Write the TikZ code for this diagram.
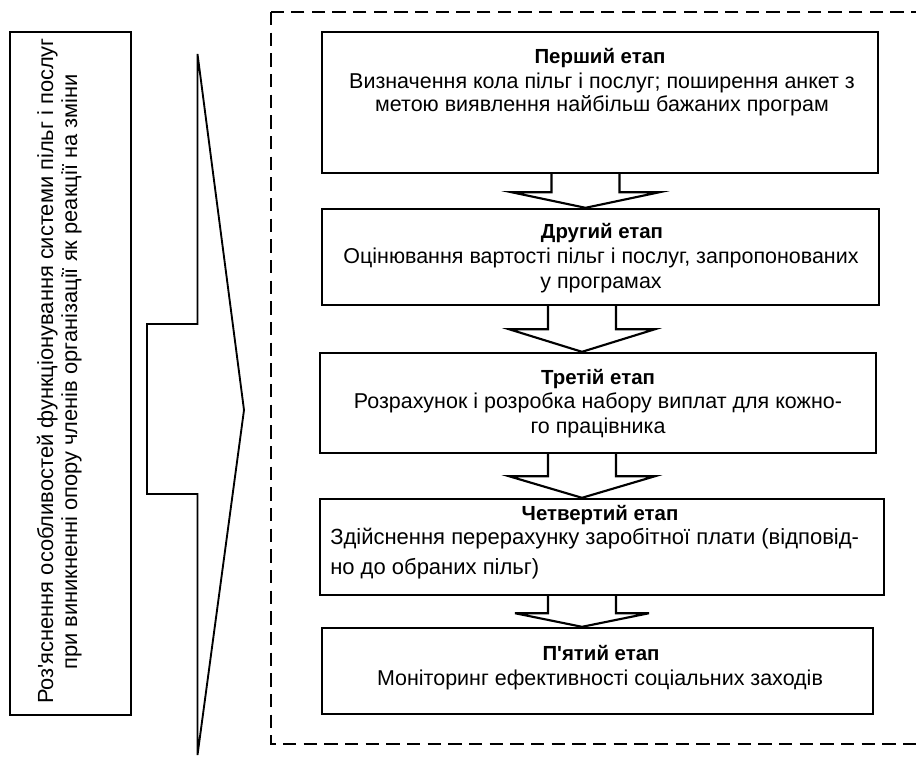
\documentclass[tikz,border=0pt]{standalone}
\usepackage{fontspec}
\setmainfont{Liberation Sans}
\usetikzlibrary{calc}
\tikzset{
  stage/.style={draw, line width=1.8pt, inner sep=0pt, rectangle},
  sidebox/.style={draw, line width=1.5pt, inner sep=0pt, rectangle},
  ln/.style={anchor=base, inner sep=0pt, font=\fontsize{16.1}{19}\selectfont},
  wideln/.style={anchor=base west, inner sep=0pt, font=\fontsize{16.5}{19}\selectfont},
  sideln/.style={anchor=base, inner sep=0pt, font=\fontsize{16.4}{20}\selectfont},
  hd/.style={anchor=base, inner sep=0pt, font=\fontsize{15.3}{18}\selectfont\bfseries},
  blk/.style={draw, line width=1.6pt, fill=white, line join=miter},
  bigarrow/.style={draw, line width=1.4pt, line join=miter},
  frame/.style={draw, line width=2pt, dash pattern=on 10pt off 5.5pt},
}
% block arrow from the bottom of #1 to the top of #2 along axis #3;
% #4 = stem length, #5 = half width of the head
\newcommand{\stagearrow}[5]{%
  \draw[blk] ($(#1.south -| #3)+(-34,0)$) -- ++(0,#4)
    -- ($(#1.south -| #3)+(-#5,#4)$) -- (#2.north -| #3)
    -- ($(#1.south -| #3)+(#5,#4)$) -- ($(#1.south -| #3)+(34,#4)$)
    -- ($(#1.south -| #3)+(34,0)$);
}
\begin{document}
\begin{tikzpicture}[x=0.75pt,y=-0.75pt]
\useasboundingbox (0,0) rectangle (916,758);

% dashed frame round the stages
\draw[frame] (271,12) rectangle (930,744);

% side box with rotated text
\node[sidebox, minimum width=90.75pt, minimum height=512.25pt] (side) at (70.5,373.5) {};
\node[sideln, rotate=90] (side1) at (53,371) {Роз\textquotesingle яснення особливостей функціонування системи пільг і послуг};
\node[sideln, rotate=90] (side2) at (77,372) {при виникненні опору членів організації як реакції на зміни};

% wide arrow pointing at the stages
\draw[bigarrow] (197.5,54) -- (244,410) -- (197.5,755) -- (197.5,494) -- (147,494)
  -- (147,324) -- (197.5,324) -- cycle;

% stage boxes
\node[stage, minimum width=417pt, minimum height=105.75pt] (s1) at (600,102.5) {};
\node[stage, minimum width=417.75pt, minimum height=72pt] (s2) at (600.5,257) {};
\node[stage, minimum width=417pt, minimum height=75pt] (s3) at (598,403) {};
\node[stage, minimum width=423pt, minimum height=72pt] (s4) at (602,547) {};
\node[stage, minimum width=413.25pt, minimum height=64.5pt] (s5) at (597.5,671) {};

% stage texts
\node[hd] (t1) at (600,63) {Перший етап};
\node[ln] (t1a) at (602,88) {Визначення кола пільг і послуг; поширення анкет з};
\node[ln] (t1b) at (602,111) {метою виявлення найбільш бажаних програм};

\node[hd] (t2) at (602,238) {Другий етап};
\node[ln] (t2a) at (601,263) {Оцінювання вартості пільг і послуг, запропонованих};
\node[ln] (t2b) at (601,288) {у програмах};

\node[hd] (t3) at (598,384) {Третій етап};
\node[ln] (t3a) at (598,408) {Розрахунок і розробка набору виплат для кожно-};
\node[ln] (t3b) at (598,433) {го працівника};

\node[hd] (t4) at (600,520) {Четвертий етап};
\node[wideln] (t4a) at (330,544) {Здійснення перерахунку заробітної плати (відповід-};
\node[wideln] (t4b) at (330,574) {но до обраних пільг)};

\node[hd] (t5) at (601,660) {П\textquotesingle ятий етап};
\node[ln] (t5a) at (600,685) {Моніторинг ефективності соціальних заходів};

% arrow axes
\coordinate (a1) at (585.5,0);
\coordinate (a2) at (582,0);
\coordinate (a3) at (582,0);
\coordinate (a4) at (582,0);

\stagearrow{s1}{s2}{a1}{18}{74}
\stagearrow{s2}{s3}{a2}{23}{73}
\stagearrow{s3}{s4}{a3}{22}{73}
\stagearrow{s4}{s5}{a4}{17}{67}
\end{tikzpicture}
\end{document}
